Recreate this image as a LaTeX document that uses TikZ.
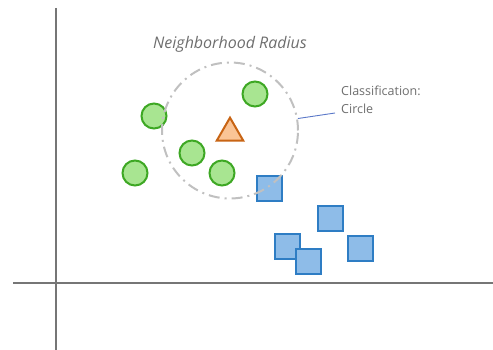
\documentclass[tikz,border=0pt]{standalone}
\usepackage{fontspec}
\setmainfont{Open Sans}
\usetikzlibrary{shapes.geometric}
\definecolor{axisgray}{RGB}{118,118,118}
\definecolor{gfill}{RGB}{168,229,145}
\definecolor{gdraw}{RGB}{62,168,36}
\definecolor{bfill}{RGB}{142,188,232}
\definecolor{bdraw}{RGB}{46,125,196}
\definecolor{ofill}{RGB}{250,196,150}
\definecolor{odraw}{RGB}{200,100,20}
\definecolor{radgray}{RGB}{192,192,192}
\definecolor{txtgray}{RGB}{110,110,110}
\definecolor{lineblue}{RGB}{90,120,200}
\tikzset{
  x=1pt, y=-1pt,
  dot/.style={circle, draw=gdraw, fill=gfill, line width=2pt, minimum size=25pt, inner sep=0pt},
  sq/.style={rectangle, draw=bdraw, fill=bfill, line width=2pt, minimum size=25pt, inner sep=0pt},
  tri/.style={isosceles triangle, isosceles triangle apex angle=60, shape border rotate=90, draw=odraw, fill=ofill, line width=2pt, minimum height=23pt, inner sep=0pt},
  radius/.style={circle, draw=radgray, line width=2pt, dash pattern=on 11pt off 5pt on 2pt off 5pt, minimum size=136pt, inner sep=0pt},
  axis/.style={draw=axisgray, line width=1.3pt},
  lbl/.style={text=txtgray, font=\fontsize{12.5}{18}\selectfont, align=left, inner sep=0pt}
}
\begin{document}
\begin{tikzpicture}
\useasboundingbox (0,0) rectangle (493,350);
% axes
\coordinate (ytop) at (56,8);
\coordinate (ybot) at (56,350);
\coordinate (xl) at (13,283);
\coordinate (xr) at (493,283);
\draw[axis] (ytop) -- (ybot);
\draw[axis] (xl) -- (xr);
% green circles
\node[dot] (c1) at (154,116) {};
\node[dot] (c2) at (255,94) {};
\node[dot] (c3) at (192,153) {};
\node[dot] (c4) at (135,173) {};
\node[dot] (c5) at (222,173) {};
% squares
\node[sq] (s1) at (269.5,188.5) {};
\node[sq] (s2) at (330,218.5) {};
\node[sq] (s3) at (287,246) {};
\node[sq] (s5) at (360,248.5) {};
\node[sq] (s4) at (308,261) {};
% triangle
\node[tri] (t) at (230,133) {};
% neighborhood radius
\node[radius] (rad) at (230,130.5) {};
\node[text=txtgray, font=\itshape\fontsize{16}{18}\selectfont] (title) at (230,44) {Neighborhood Radius};
% classification label
\node[lbl, anchor=north west] (cls) at (341,86) {Classification:\\Circle};
\coordinate (lend) at (335,113);
\draw[lineblue, line width=0.9pt] (rad.10) -- (lend);
\end{tikzpicture}
\end{document}
